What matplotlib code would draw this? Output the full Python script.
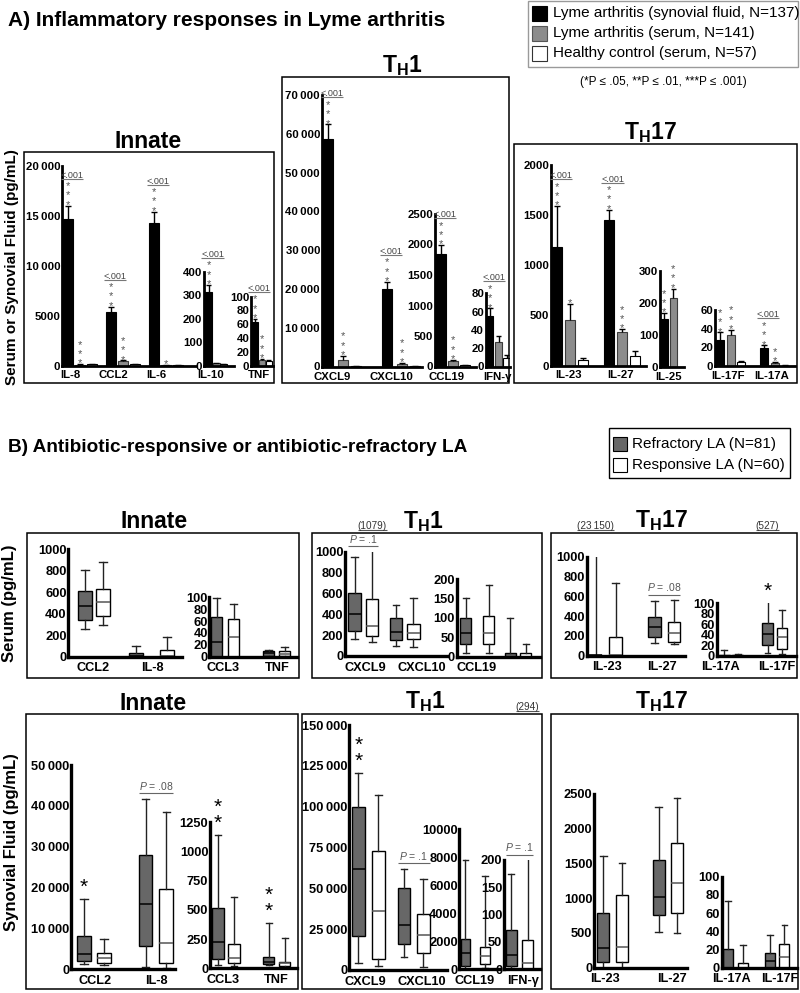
import numpy as np
import matplotlib
matplotlib.use("Agg")
import matplotlib.pyplot as plt
from matplotlib.patches import Rectangle
import matplotlib.transforms as mtrans

TS = '\u2009'

# ======================= DATA =======================
# ---- Panel A: mean +/- SEM (pg/mL)
A_CATS = ['IL-8', 'CCL2', 'IL-6', 'IL-10', 'TNF', 'CXCL9', 'CXCL10', 'CCL19', 'IFN-γ',
          'IL-23', 'IL-27', 'IL-25', 'IL-17F', 'IL-17A']
A_SYN = [14700, 5350, 14300, 314, 63, 58600, 20000, 1840, 55, 1180, 1455, 150, 28, 19]
A_SYN_ERR = [1300, 550, 1100, 29, 5, 3800, 1800, 150, 8.5, 410, 100, 18, 8, 3]
A_SER = [100, 450, 40, 9, 8, 1800, 700, 95, 26.5, 455, 332, 215, 33, 3.5]
A_SER_ERR = [30, 60, 10, 2, 1.5, 900, 200, 15, 7, 157, 30, 30, 5.5, 0.8]
A_CTL = [170, 150, 15, 7, 6, 200, 100, 25, 9.5, 55, 97, np.nan, 4, 0.5]
A_CTL_ERR = [20, 30, 5, 1.5, 1.5, 50, 30, 5, 3, 15, 48, np.nan, 1.5, 0.2]
A_SYN_SIG = ['***', '***', '***', '***', '***', '***', '***', '***', '***', '***', '***', '***', '***', '***']
A_SER_SIG = ['***', '***', '*', '', '***', '***', '***', '***', '', '*', '***', '***', '***', '**']
A_PVAL = ['<.001', '<.001', '<.001', '<.001', '<.001', '<.001', '<.001', '<.001', '<.001',
          '<.001', '<.001', '', '', '<.001']
A_LEGEND = ['Lyme arthritis (synovial fluid, N=137)', 'Lyme arthritis (serum, N=141)',
            'Healthy control (serum, N=57)']
A_NOTE = '(*P ≤ .05, **P ≤ .01, ***P ≤ .001)'

TK_A_IL8 = ['0', '5000', '10' + TS + '000', '15' + TS + '000', '20' + TS + '000']
TK_A_IL10 = ['0', '100', '200', '300', '400']
TK_A_TNF = ['0', '20', '40', '60', '80', '100']
TK_A_CXCL = ['0'] + [f'{k}0' + TS + '000' for k in range(1, 8)]
TK_A_CCL19 = ['0', '500', '1000', '1500', '2000', '2500']
TK_A_IFN = ['0', '20', '40', '60', '80']
TK_A_IL23 = ['0', '500', '1000', '1500', '2000']
TK_A_IL25 = ['0', '100', '200', '300']
TK_A_IL17 = ['0', '20', '40', '60']

# ---- Panel B: box plots (whisker low, Q1, median, Q3, whisker high), pg/mL
B_CATS = ['CCL2', 'IL-8', 'CCL3', 'TNF', 'CXCL9', 'CXCL10', 'CCL19', 'IFN-γ',
          'IL-23', 'IL-27', 'IL-17A', 'IL-17F']
B_SER_TICKLABELS = ['CCL2', 'IL-8', 'CCL3', 'TNF', 'CXCL9', 'CXCL10', 'CCL19', '',
                    'IL-23', 'IL-27', 'IL-17A', 'IL-17F']
B_SYN_TICKLABELS = ['CCL2', 'IL-8', 'CCL3', 'TNF', 'CXCL9', 'CXCL10', 'CCL19', 'IFN-γ',
                    'IL-23', 'IL-27', 'IL-17A', 'IL-17F']
# serum, refractory
B_SER_REF_WLO = [255, 0, 0, 0, 163, 95, 9, 0, 0, 125, 0, 6]
B_SER_REF_Q1 = [345, 2, 0, 2, 240, 150, 32, 0, 0, 192, 0, 20]
B_SER_REF_MED = [475, 10, 25, 6, 400, 233, 60, 0, 3, 293, 0, 41]
B_SER_REF_Q3 = [615, 32, 67, 9, 605, 366, 101, 10, 12, 388, 2, 62]
B_SER_REF_WHI = [810, 102, 98, 12, 950, 490, 151, 101, 23150, 555, 10, 527]
# serum, responsive
B_SER_RSP_WLO = [295, 0, 0, 0, 130, 83, 9, 0, 0, 118, 0, 3]
B_SER_RSP_Q1 = [379, 2, 0, 2, 195, 160, 32, 0, 0, 141, 0, 12]
B_SER_RSP_MED = [506, 10, 34, 5, 290, 217, 61, 0, 8, 229, 0, 36]
B_SER_RSP_Q3 = [627, 62, 63, 10, 550, 303, 105, 10, 192, 337, 1, 53]
B_SER_RSP_WHI = [884, 186, 89, 16, 1079, 555, 184, 33, 731, 562, 4, 87]
# synovial fluid, refractory
B_SYN_REF_WLO = [1300, 650, 28, 28, 4500, 7800, 50, 2, 0, 519, 0, 0]
B_SYN_REF_Q1 = [2100, 5800, 77, 34, 20800, 15700, 250, 6, 87, 760, 0, 0]
B_SYN_REF_MED = [3650, 16100, 222, 56, 61700, 27600, 1150, 26, 288, 1014, 0, 7]
B_SYN_REF_Q3 = [8200, 28000, 514, 99, 99700, 50400, 2150, 72, 784, 1553, 21, 16]
B_SYN_REF_WHI = [17100, 41700, 1140, 387, 120500, 61900, 7800, 174, 1614, 2320, 73, 36]
# synovial fluid, responsive
B_SYN_RSP_WLO = [1050, 250, 20, 14, 2400, 2000, 100, 0, 0, 496, 0, 0]
B_SYN_RSP_Q1 = [1450, 1600, 43, 20, 6500, 10200, 380, 0, 87, 784, 0, 0]
B_SYN_RSP_MED = [2850, 6350, 91, 43, 36300, 21400, 970, 11, 303, 1225, 0, 12]
B_SYN_RSP_Q3 = [3900, 19600, 205, 55, 73100, 34300, 1610, 54, 1048, 1793, 5, 26]
B_SYN_RSP_WHI = [7300, 38500, 612, 262, 107200, 55600, 6700, 294, 1513, 2441, 25, 47]

B_SER_STARS = ['', '', '', '', '', '', '', '', '', '', '', '*']
B_SER_P = ['', '', '', '', 'P = .1', '', '', '', '', 'P = .08', '', '']
B_SYN_STARS = ['*', '', '**', '**', '**', '', '', '', '', '', '', '']
B_SYN_P = ['', 'P = .08', '', '', '', 'P = .1', '', 'P = .1', '', '', '', '']
B_LEGEND = ['Refractory LA (N=81)', 'Responsive LA (N=60)']

TK_B_1000 = ['0', '200', '400', '600', '800', '1000']
TK_B_100 = ['0', '20', '40', '60', '80', '100']
TK_B_200 = ['0', '50', '100', '150', '200']
TK_B_50K = ['0'] + [f'{k}0' + TS + '000' for k in range(1, 6)]
TK_B_1250 = ['0', '250', '500', '750', '1000', '1250']
TK_B_150K = ['0'] + [f'{k}' + TS + '000' for k in (25, 50, 75, 100, 125, 150)]
TK_B_10K = ['0', '2000', '4000', '6000', '8000', '10000']
TK_B_2500 = ['0', '500', '1000', '1500', '2000', '2500']

# ======================= STYLE / LAYOUT =======================
plt.rcParams['font.family'] = ['Liberation Sans', 'DejaVu Sans']
plt.rcParams['mathtext.fontset'] = 'custom'
plt.rcParams['mathtext.rm'] = 'Liberation Sans'
plt.rcParams['mathtext.it'] = 'Liberation Sans:italic'
plt.rcParams['mathtext.bf'] = 'Liberation Sans:bold'

W, H = 800, 993
fig = plt.figure(figsize=(W / 100, H / 100), dpi=100)

ov = fig.add_axes([0, 0, 1, 1], zorder=10)
ov.set_xlim(0, W)
ov.set_ylim(H, 0)
ov.axis('off')
ov.patch.set_visible(False)

UNDER = []

REF_COL = '#676767'
SER_COL = '#8c8c8c'
A_TICK_FS, A_CAT_FS = 8.2, 8.2
B_TICK_FS, B_CAT_FS = 9.3, 9.2
TH1 = r'$\mathbf{T}_{\mathbf{H}}\mathbf{1}$'
TH17 = r'$\mathbf{T}_{\mathbf{H}}\mathbf{17}$'


def setup_axes(L, R, top, base, t0, s, ticks, fs, padx, pady, lw):
    ax = fig.add_axes([L / W, 1 - base / H, (R - L) / W, (base - top) / H])
    ax.patch.set_visible(False)
    vals = [float(t.replace(TS, '')) for t in ticks]
    ax.set_ylim(0, vals[-1])
    ax.set_xlim((L - t0) / s, (R - t0) / s)
    ax.set_yticks(vals)
    ax.set_yticklabels(ticks, fontsize=fs, fontweight='bold')
    ax.spines['top'].set_visible(False)
    ax.spines['right'].set_visible(False)
    ax.spines['left'].set_linewidth(lw)
    ax.spines['bottom'].set_linewidth(lw)
    ax.tick_params(axis='both', length=0)
    ax.tick_params(axis='y', pad=pady)
    ax.tick_params(axis='x', pad=padx)
    return ax


def star_stack(ax, n, xy, gap_px, fs, step_px, color):
    # one text per stack of vertically stacked asterisks
    fs_px = fs * 100 / 72.0
    ls = step_px / (0.729 * fs_px)
    off = gap_px - 0.63 * fs_px
    ax.annotate('\n'.join(['*'] * n), xy=xy, xytext=(0, off), textcoords='offset pixels',
                ha='center', va='bottom', fontsize=fs, color=color, linespacing=ls)


def draw_A(cats, L, R, top, base, groups, bw, offs, ticks):
    t0 = groups[0]
    s = (groups[1] - groups[0]) if len(groups) > 1 else 30.0
    ax = setup_axes(L, R, top, base, t0, s, ticks, A_TICK_FS, 3.6, 1.2, 2.0)
    x = np.arange(len(cats))
    ax.set_xticks(x)
    ax.set_xticklabels(cats, fontsize=A_CAT_FS, fontweight='bold')
    idx = [A_CATS.index(c) for c in cats]
    w = bw / s
    cap = min(3.0, 0.4 * bw) / s
    series = [(A_SYN, A_SYN_ERR, A_SYN_SIG, 'black', 'black'),
              (A_SER, A_SER_ERR, A_SER_SIG, SER_COL, '#3c3c3c'),
              (A_CTL, A_CTL_ERR, None, 'white', 'black')]
    for k, ((vals, errs, sig, fc, ec), off) in enumerate(zip(series, offs)):
        for j, i in enumerate(idx):
            v, e = vals[i], errs[i]
            if np.isnan(v):
                continue
            xp = j + off / s
            ax.bar(xp, v, w, color=fc, edgecolor=ec, linewidth=0.8, zorder=2)
            ax.vlines(xp, v, v + e, color='black', lw=1, zorder=3)
            ax.hlines(v + e, xp - cap, xp + cap, color='black', lw=1, zorder=3)
            if sig is not None and sig[i]:
                star_stack(ax, len(sig[i]), (xp, v + e), 2.7, 8, 7.5, '#555555')
            if k == 0 and A_PVAL[i]:
                t = ax.annotate(A_PVAL[i], xy=(xp, v + e), xytext=(4, 28),
                                textcoords='offset pixels', ha='center', va='baseline',
                                fontsize=6.5, color='#444444')
                UNDER.append((t, None, 1.0, '#777777'))
    return ax


def draw_B(row, cats, L, R, top, base, groups, labpx, bw, hs, ticks, frame_top):
    t0 = groups[0]
    s = (groups[1] - groups[0]) if len(groups) > 1 else 40.0
    ax = setup_axes(L, R, top, base, t0, s, ticks, B_TICK_FS, 4.0, 1.2, 2.4)
    ymax = ax.get_ylim()[1]
    if row == 'ser':
        ref = (B_SER_REF_WLO, B_SER_REF_Q1, B_SER_REF_MED, B_SER_REF_Q3, B_SER_REF_WHI)
        rsp = (B_SER_RSP_WLO, B_SER_RSP_Q1, B_SER_RSP_MED, B_SER_RSP_Q3, B_SER_RSP_WHI)
        stars, ptxt, tl = B_SER_STARS, B_SER_P, B_SER_TICKLABELS
    else:
        ref = (B_SYN_REF_WLO, B_SYN_REF_Q1, B_SYN_REF_MED, B_SYN_REF_Q3, B_SYN_REF_WHI)
        rsp = (B_SYN_RSP_WLO, B_SYN_RSP_Q1, B_SYN_RSP_MED, B_SYN_RSP_Q3, B_SYN_RSP_WHI)
        stars, ptxt, tl = B_SYN_STARS, B_SYN_P, B_SYN_TICKLABELS
    idx = [B_CATS.index(c) for c in cats]
    x = np.arange(len(cats))
    ax.set_xticks([j + (labpx[j] - groups[j]) / s for j in x])
    ax.set_xticklabels([tl[i] for i in idx], fontsize=B_CAT_FS, fontweight='bold')
    blend = mtrans.blended_transform_factory(ax.transData, ov.transData)
    w = bw / s
    for j, i in enumerate(idx):
        h = hs[j] / s
        tops = []
        for sign, src, fc, mc in ((-1, ref, REF_COL, 'black'), (1, rsp, 'white', '#555555')):
            wlo, q1, med, q3, whi = [arr[i] for arr in src]
            pos = j + sign * h
            st = dict(med=med, q1=q1, q3=q3, whislo=wlo, whishi=whi, fliers=[])
            ax.bxp([st], positions=[pos], widths=[w], capwidths=[0.55 * w],
                   patch_artist=True, showfliers=False, manage_ticks=False,
                   boxprops=dict(facecolor=fc, edgecolor='black', linewidth=1),
                   medianprops=dict(color=mc, linewidth=1.1),
                   whiskerprops=dict(color='#222222', linewidth=1),
                   capprops=dict(color='#222222', linewidth=1))
            tops.append(min(whi, ymax))
            if whi > ymax:
                lab = f'{whi:,}'.replace(',', TS) if whi >= 10000 else f'{whi}'
                t = ov.text(pos, frame_top - 4, f'({lab})', transform=blend,
                            ha='center', va='baseline', fontsize=7.2, color='#333333')
                UNDER.append((t, None, 1.0, '#555555'))
            if sign == -1 and stars[i]:
                star_stack(ax, len(stars[i]), (pos, min(whi, ymax)), 15.7, 15, 12, 'black')
        if ptxt[i]:
            label = ptxt[i].replace('P', r'$P$', 1)
            t = ax.annotate(label, xy=(j, max(tops)), xytext=(0, 9),
                            textcoords='offset pixels', ha='center', va='baseline',
                            fontsize=7.5, color='#555555')
            UNDER.append((t, (ax, j - h - w / 2, j + h + w / 2), -1.5, '#666666'))
    return ax


# ---------------- Panel A ----------------
draw_A(['IL-8', 'CCL2', 'IL-6'], 62, 196, 165.7, 365.5, [70, 113, 156], 10, (-2, 10, 22), TK_A_IL8)
draw_A(['IL-10'], 204, 234, 271.7, 365.5, [211], 7, (-2.5, 5, 12), TK_A_IL10)
draw_A(['TNF'], 251, 273, 296.7, 365.5, [259], 6, (-4, 3, 9.5), TK_A_TNF)
draw_A(['CXCL9', 'CXCL10'], 321.7, 422, 95, 366.5, [332, 391], 10, (-4, 11, 24), TK_A_CXCL)
draw_A(['CCL19'], 435, 476, 214, 366.5, [447], 10, (-6, 6, 18), TK_A_CCL19)
draw_A(['IFN-γ'], 485.7, 509.5, 293.3, 366.5, [497], 6.5, (-7, 1.7, 9.5), TK_A_IFN)
draw_A(['IL-23', 'IL-27'], 550.7, 646, 165, 365.5, [569, 620.5], 10, (-12, 1, 14), TK_A_IL23)
draw_A(['IL-25'], 660, 684, 271, 367, [669], 7, (-5, 4.3, 13), TK_A_IL25)
draw_A(['IL-17F', 'IL-17A'], 715, 795, 310, 366, [728, 772], 8.5, (-8, 3, 13), TK_A_IL17)

# ---------------- Panel B ----------------
SER_TOP, SYN_TOP = 533.3, 714.3
draw_B('ser', ['CCL2', 'IL-8'], 68.3, 181.7, 549.3, 656.7, [94, 151.2], [93.3, 152.7], 14, [9, 15.5], TK_B_1000, SER_TOP)
draw_B('ser', ['CCL3', 'TNF'], 209.3, 297, 597.3, 656.7, [225, 276.5], [223, 277], 11.5, [8.5, 8], TK_B_100, SER_TOP)
draw_B('ser', ['CXCL9', 'CXCL10'], 345, 446.7, 551.7, 656, [363.3, 404.7], [365, 422], 12.4, [8.8, 8.7], TK_B_1000, SER_TOP)
draw_B('ser', ['CCL19', 'IFN-γ'], 456.7, 540, 579.3, 656.7, [477.2, 518], [476.7, 518], 11, [11.6, 7.9], TK_B_200, SER_TOP)
draw_B('ser', ['IL-23', 'IL-27'], 586.7, 685, 556.7, 655.7, [605.6, 664.3], [606.7, 661.7], 12.5, [10, 9.8], TK_B_1000, SER_TOP)
draw_B('ser', ['IL-17A', 'IL-17F'], 716.7, 796, 603.3, 655.7, [731, 774.8], [720, 776.7], 10.5, [6.7, 7.2], TK_B_100, SER_TOP)
draw_B('syn', ['CCL2', 'IL-8'], 71, 175, 765, 969.3, [94.1, 155.9], [95, 156], 13.7, [10.1, 10.4], TK_B_50K, SYN_TOP)
draw_B('syn', ['CCL3', 'TNF'], 210, 297, 822.3, 968.3, [226, 276.7], [222.7, 276.7], 11.5, [8.2, 8], TK_B_1250, SYN_TOP)
draw_B('syn', ['CXCL9', 'CXCL10'], 349.3, 446.7, 725, 970, [368.3, 413.7], [365, 421.7], 12.5, [10, 9.7], TK_B_150K, SYN_TOP)
draw_B('syn', ['CCL19'], 459.3, 500, 829.3, 969.3, [475.2], [475], 9.5, [9.9], TK_B_10K, SYN_TOP)
draw_B('syn', ['IFN-γ'], 504, 540, 860, 969.3, [519.4], [523.3], 11, [8.2], TK_B_200, SYN_TOP)
draw_B('syn', ['IL-23', 'IL-27'], 594, 686.7, 794, 967.7, [612.6, 667.9], [605, 671.7], 12, [9.3, 9.2], TK_B_2500, SYN_TOP)
draw_B('syn', ['IL-17A', 'IL-17F'], 721.7, 797, 876.7, 967.7, [735.4, 777.2], [731.7, 780], 10, [7.4, 7.2], TK_B_100, SYN_TOP)

# ---------------- frames, titles, legends ----------------
FRAMES = [(24, 152, 274, 383), (282.3, 77.3, 509, 383), (513.5, 144, 797, 383),
          (26.7, 532.7, 299, 678), (311.7, 533.3, 541.7, 678), (550.7, 533.3, 796.7, 678),
          (26, 714.3, 298, 989), (302, 714.3, 542, 989), (550.7, 714, 798, 989)]
for x0, y0, x1, y1 in FRAMES:
    ov.add_patch(Rectangle((x0, y0), x1 - x0, y1 - y0, fill=False, edgecolor='black', lw=1.1))

TITLES = [('Innate', 148, 147.5), (TH1, 402, 72.5), (TH17, 650, 139.5),
          ('Innate', 154, 528), (TH1, 423, 528), (TH17, 661.7, 527),
          ('Innate', 153.3, 710), (TH1, 425, 708), (TH17, 661.7, 708)]
for txt, xc, yb in TITLES:
    ov.text(xc, yb, txt, ha='center', va='baseline', fontsize=16.5, fontweight='bold')

ov.text(8, 20, 'A) Inflammatory responses in Lyme arthritis', ha='left', va='center',
        fontsize=15, fontweight='bold')
ov.text(8, 448, 'B) Antibiotic-responsive or antibiotic-refractory LA', ha='left', va='center',
        fontsize=13.7, fontweight='bold')

ov.text(12, 267, 'Serum or Synovial Fluid (pg/mL)', rotation=90, ha='center', va='center',
        fontsize=11, fontweight='bold')
ov.text(10, 603, 'Serum (pg/mL)', rotation=90, ha='center', va='center',
        fontsize=12, fontweight='bold')
ov.text(11.7, 842, 'Synovial Fluid (pg/mL)', rotation=90, ha='center', va='center',
        fontsize=12, fontweight='bold')

# legend A
ov.add_patch(Rectangle((528.3, 0.7), 270, 66, fill=False, edgecolor='#9a9a9a', lw=1))
for k, (lab, fc, ec) in enumerate(zip(A_LEGEND, ['black', SER_COL, 'white'],
                                      ['black', '#555555', '#333333'])):
    yc = 13.3 + 20 * k
    ov.add_patch(Rectangle((531.7, yc - 7.5), 15, 15, facecolor=fc, edgecolor=ec, lw=0.8))
    ov.text(553, yc, lab, ha='left', va='center', fontsize=11)
ov.text(663.3, 81.7, A_NOTE, ha='center', va='center', fontsize=8.5)

# legend B
ov.add_patch(Rectangle((609, 428), 181, 50, fill=False, edgecolor='black', lw=1))
for k, (lab, fc) in enumerate(zip(B_LEGEND, [REF_COL, 'white'])):
    yc = 444 + 20.5 * k
    ov.add_patch(Rectangle((613, yc - 7), 14, 14, facecolor=fc, edgecolor='black', lw=0.8))
    ov.text(632, yc, lab, ha='left', va='center', fontsize=11)

# ---------------- underlines ----------------
fig.canvas.draw()
rend = fig.canvas.get_renderer()
for t, xr, dy, col in UNDER:
    bb = t.get_window_extent(rend)
    if xr is None:
        xa, xb = bb.x0, bb.x1
    else:
        axx, xl, xh = xr
        xa = axx.transData.transform((xl, 0))[0]
        xb = axx.transData.transform((xh, 0))[0]
    y = bb.y0 + dy
    ov.plot([xa, xb], [H - y, H - y], color=col, lw=0.8, solid_capstyle='butt')

fig.savefig('out.png', dpi=100)
